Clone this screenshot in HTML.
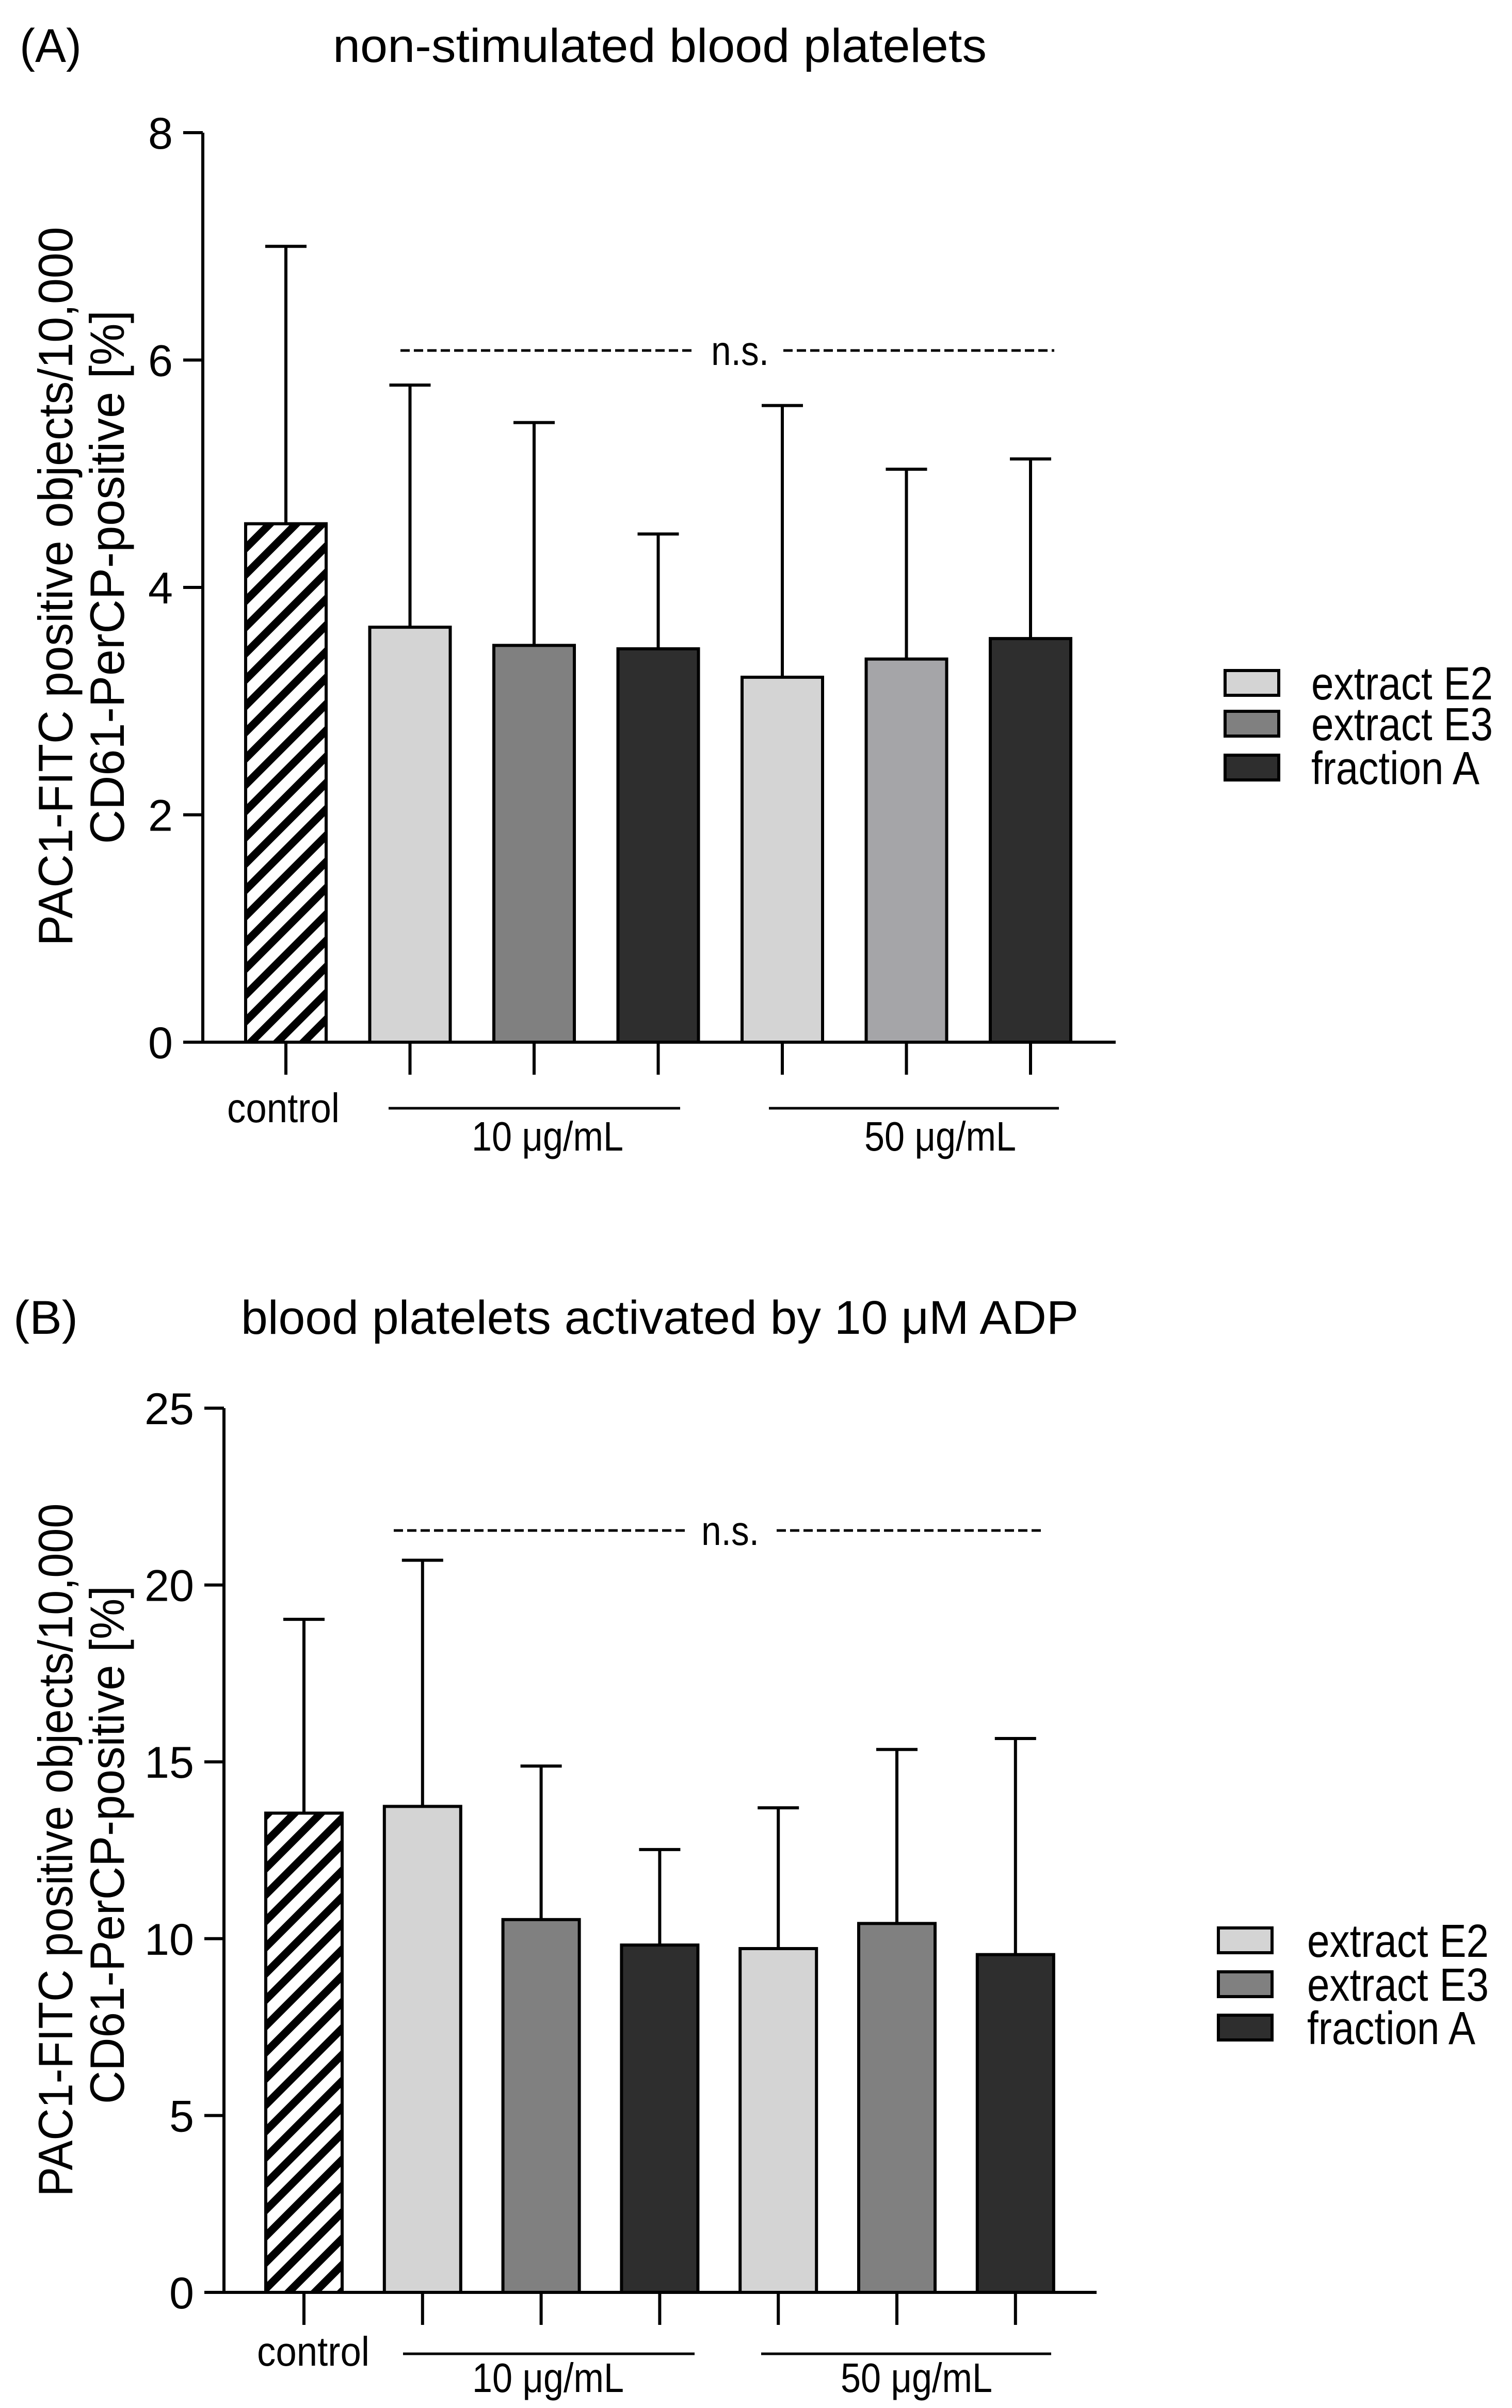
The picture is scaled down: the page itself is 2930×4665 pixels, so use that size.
<!DOCTYPE html>
<html><head><meta charset="utf-8"><style>
html,body{margin:0;padding:0;background:#fff;}
svg{display:block;font-family:"Liberation Sans",Arial,sans-serif;}
</style></head><body>
<svg id="fig" width="2930" height="4665" viewBox="0 0 2930 4665" xmlns="http://www.w3.org/2000/svg">
<defs>
<pattern id="hatch" patternUnits="userSpaceOnUse" width="36" height="36" patternTransform="rotate(45)">
<rect x="0" y="0" width="36" height="36" fill="#fff"/>
<rect x="0" y="0" width="15" height="36" fill="#000"/>
</pattern>
</defs>
<g id="panelA"></g>
<g id="panelB"></g>
</svg>
<script>
// ---- data ----
const categories = ["control","E2 10","E3 10","A 10","E2 50","E3 50","A 50"];
const meansA = [4.56, 3.65, 3.49, 3.46, 3.21, 3.37, 3.55];
const errTopA = [7.0, 5.78, 5.45, 4.47, 5.6, 5.04, 5.13];
const meansB = [13.55, 13.74, 10.54, 9.82, 9.72, 10.43, 9.55];
const errTopB = [19.03, 20.7, 14.88, 12.52, 13.7, 15.35, 15.66];
const ticksA = [0, 2, 4, 6, 8];
const ticksB = [0, 5, 10, 15, 20, 25];
const legendLabels = ["extract E2", "extract E3", "fraction A"];

const NS = "http://www.w3.org/2000/svg";
function mk(parent, tag, attrs, text){
  const e = document.createElementNS(NS, tag);
  for (const k in attrs) e.setAttribute(k, attrs[k]);
  if (text !== undefined) e.textContent = text;
  parent.appendChild(e);
  return e;
}

function drawPanel(g, cfg){
  const yS = v => cfg.y0 - (v - 0) * (cfg.y0 - cfg.yTop) / cfg.yMax;
  const xS = i => cfg.c0 + i * cfg.step;
  let t = mk(g, "text", {x: cfg.letterX, y: cfg.titleY, "font-size": 92, textLength: cfg.letterW, lengthAdjust:"spacingAndGlyphs"}, cfg.letter);
  
  
  t = mk(g, "text", {x: cfg.titleX, y: cfg.titleY, "font-size": 92, textLength: cfg.titleW, lengthAdjust:"spacingAndGlyphs"}, cfg.title);
  
  
  const yl = mk(g, "g", {});
  
  
  mk(yl, "text", {x: 0, y: 0, "font-size": 94, "text-anchor":"middle", textLength: cfg.yl1Len, lengthAdjust:"spacingAndGlyphs", transform:`translate(${cfg.yl1X},${cfg.yl1C}) rotate(-90)`}, "PAC1-FITC positive objects/10,000");
  mk(yl, "text", {x: 0, y: 0, "font-size": 94, "text-anchor":"middle", textLength: cfg.yl2Len, lengthAdjust:"spacingAndGlyphs", transform:`translate(${cfg.yl2X},${cfg.yl2C}) rotate(-90)`}, "CD61-PerCP-positive [%]");
  for (let i = 0; i < cfg.means.length; i++){
    const cx = xS(i), top = yS(cfg.means[i]), et = yS(cfg.errs[i]);
    const eb = mk(g, "path", {d:`M${cx},${top} V${et} M${cx-40},${et} H${cx+40}`, stroke:"#000", "stroke-width":6, fill:"none"});
    
    
    const r = mk(g, "rect", {x: cx - cfg.bw/2, y: top, width: cfg.bw, height: cfg.y0 - top, fill: cfg.fills[i], stroke:"#000", "stroke-width":6});
    
    
    const tk = mk(g, "line", {x1: cx, x2: cx, y1: cfg.y0, y2: cfg.y0 + 63, stroke:"#000", "stroke-width":6});
    
    
  }
  const ax = mk(g, "path", {d:`M${cfg.ax},${cfg.yTop} V${cfg.y0} H${cfg.axEnd}`, stroke:"#000", "stroke-width":6, fill:"none"});
  
  
  for (const v of cfg.ticks){
    const y = yS(v);
    const l = mk(g, "line", {x1: cfg.ax - 38, x2: cfg.ax, y1: y, y2: y, stroke:"#000", "stroke-width":6});
    
    
    const s = String(v);
    const tl = mk(g, "text", {x: cfg.ax - 58, y: y + 31, "font-size": 86, "text-anchor":"end", textLength: s.length * 48, lengthAdjust:"spacingAndGlyphs"}, s);
    
    
  }
  t = mk(g, "text", {x: cfg.ctrlX, y: cfg.ctrlY, "font-size": 80, "text-anchor":"middle", textLength: 218, lengthAdjust:"spacingAndGlyphs"}, "control");
  
  
  cfg.groups.forEach((gr, k) => {
    const l = mk(g, "line", {x1: gr[0], x2: gr[1], y1: cfg.grpLineY, y2: cfg.grpLineY, stroke:"#000", "stroke-width":5});
    
    
    const tx = mk(g, "text", {x: gr[2], y: cfg.grpLabelY, "font-size": 80, "text-anchor":"middle", textLength: 294, lengthAdjust:"spacingAndGlyphs"}, (k === 0 ? "10" : "50") + " \u03bcg/mL");
    
    
  });
  const ns = mk(g, "g", {});
  
  
  mk(ns, "line", {x1: cfg.ns[0], x2: cfg.ns[1], y1: cfg.nsY, y2: cfg.nsY, stroke:"#000", "stroke-width":5, "stroke-dasharray":"18 8"});
  mk(ns, "line", {x1: cfg.ns[3], x2: cfg.ns[4], y1: cfg.nsY, y2: cfg.nsY, stroke:"#000", "stroke-width":5, "stroke-dasharray":"18 8"});
  mk(ns, "text", {x: cfg.ns[2], y: cfg.nsY + 28, "font-size": 80, "text-anchor":"middle", textLength: 112, lengthAdjust:"spacingAndGlyphs"}, "n.s.");
  const lg = mk(g, "g", {});
  
  
  const lf = ["#d4d4d4", "#808080", "#2e2e2e"];
  legendLabels.forEach((lab, k) => {
    const e = mk(lg, "g", {});
    
    
    mk(e, "rect", {x: cfg.lgX, y: cfg.lgY[k], width: 104, height: 48, fill: lf[k], stroke:"#000", "stroke-width":6});
    mk(e, "text", {x: cfg.lgTX, y: cfg.lgY[k] + 56, "font-size": 90, textLength: k === 2 ? 326 : 352, lengthAdjust:"spacingAndGlyphs"}, lab);
  });
}

drawPanel(document.getElementById("panelA"), {
  means: meansA, errs: errTopA, ticks: ticksA, yMax: 8, y0: 2019, yTop: 257,
  c0: 554, step: 240.5, bw: 156, ax: 393, axEnd: 2162,
  fills: ["url(#hatch)", "#d4d4d4", "#808080", "#2e2e2e", "#d4d4d4", "#a5a5a8", "#2e2e2e"],
  letter: "(A)", letterX: 38, letterW: 120, title: "non-stimulated blood platelets", titleX: 645, titleW: 1267, titleY: 120,
  yl1X: 140, yl1C: 1136, yl1Len: 1393, yl2X: 240, yl2C: 1118, yl2Len: 1034,
  ctrlX: 549, ctrlY: 2174, groups: [[753, 1318, 1061], [1490, 2052, 1822]], grpLineY: 2147, grpLabelY: 2229,
  ns: [776, 1348, 1434, 1518, 2043], nsY: 679,
  lgX: 2374, lgY: [1299, 1378, 1463], lgTX: 2541
});
drawPanel(document.getElementById("panelB"), {
  means: meansB, errs: errTopB, ticks: ticksB, yMax: 25, y0: 4441, yTop: 2728,
  c0: 589, step: 229.8, bw: 148, ax: 434, axEnd: 2125,
  fills: ["url(#hatch)", "#d4d4d4", "#808080", "#2e2e2e", "#d4d4d4", "#808080", "#2e2e2e"],
  letter: "(B)", letterX: 26, letterW: 125, title: "blood platelets activated by 10 \u03bcM ADP", titleX: 467, titleW: 1623, titleY: 2584,
  yl1X: 140, yl1C: 3584, yl1Len: 1343, yl2X: 240, yl2C: 3574, yl2Len: 1004,
  ctrlX: 607, ctrlY: 4583, groups: [[781, 1346, 1062], [1475, 2037, 1776]], grpLineY: 4560, grpLabelY: 4634,
  ns: [763, 1327, 1415, 1505, 2019], nsY: 2965,
  lgX: 2361, lgY: [3735, 3820, 3904], lgTX: 2533
});
</script>
</body></html>
